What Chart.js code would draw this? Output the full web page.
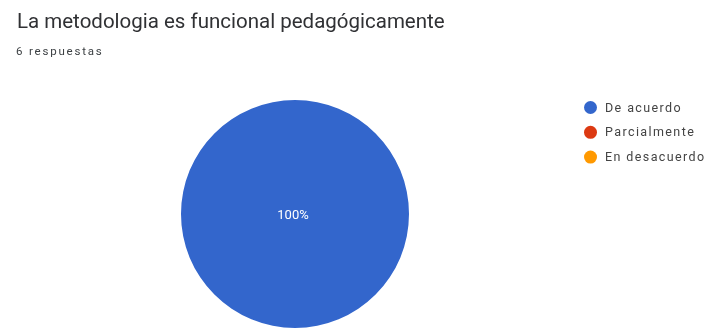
<!DOCTYPE html>
<html>
<head>
<meta charset="utf-8">
<script src="https://cdn.jsdelivr.net/npm/chart.js@4/dist/chart.umd.min.js"></script>
<style>
html,body{margin:0;padding:0;background:#fff;}
#wrap{position:relative;width:710px;height:328px;}
</style>
</head>
<body>
<div id="wrap"><canvas id="c" width="710" height="328"></canvas></div>
<script>
const titleText = "La metodologia es funcional pedagógicamente";
const subtitleText = "6 respuestas";
const categories = ["De acuerdo", "Parcialmente", "En desacuerdo"];
const responses = [6, 0, 0];
const colors = ["#3366cc", "#dc3912", "#ff9900"];

const FONT = "Roboto, 'Noto Sans', Arial, sans-serif";

const overlay = {
  id: 'overlay',
  afterDraw(chart) {
    const ctx = chart.ctx;
    ctx.save();
    ctx.textBaseline = 'middle';
    ctx.textAlign = 'left';
    // title
    ctx.fillStyle = '#303134';
    ctx.font = "20.5px " + FONT;
    ctx.letterSpacing = "0px";
    ctx.fillText(titleText, 17, 23);
    // subtitle
    ctx.fillStyle = '#3c4043';
    ctx.font = "11.5px " + FONT;
    ctx.letterSpacing = "1.8px";
    ctx.fillText(subtitleText, 16, 52);

    // legend
    const labels = chart.data.labels;
    const bg = chart.data.datasets[0].backgroundColor;
    ctx.letterSpacing = "1.4px";
    labels.forEach((lab, i) => {
      const y = 107.5 + i * 24.8;
      ctx.beginPath();
      ctx.fillStyle = bg[i];
      ctx.arc(590.5, y, 6.5, 0, Math.PI * 2);
      ctx.fill();
      ctx.fillStyle = '#444';
      ctx.font = "12.5px " + FONT;
      ctx.fillText(lab, 605, y + 1);
    });

    // slice percentage labels
    ctx.letterSpacing = "0px";
    const ds = chart.data.datasets[0];
    const total = ds.data.reduce((a, b) => a + b, 0);
    const meta = chart.getDatasetMeta(0);
    meta.data.forEach((arc, i) => {
      const v = ds.data[i];
      if (!v) return;
      const pct = Math.round(v / total * 100) + '%';
      let x, y;
      if (v === total) { x = arc.x; y = arc.y; }
      else { const p = arc.tooltipPosition(); x = p.x; y = p.y; }
      ctx.fillStyle = '#ffffff';
      ctx.font = "13px " + FONT;
      ctx.textAlign = 'center';
      ctx.fillText(pct, x - 2, y + 2);
    });
    ctx.restore();
  }
};

new Chart(document.getElementById('c'), {
  type: 'pie',
  data: {
    labels: categories,
    datasets: [{
      data: responses,
      backgroundColor: colors,
      borderWidth: 0
    }]
  },
  options: {
    responsive: false,
    animation: false,
    layout: { padding: { top: 100, bottom: 0, left: 181, right: 301 } },
    plugins: {
      legend: { display: false },
      tooltip: { enabled: false }
    }
  },
  plugins: [overlay]
});
</script>
</body>
</html>
